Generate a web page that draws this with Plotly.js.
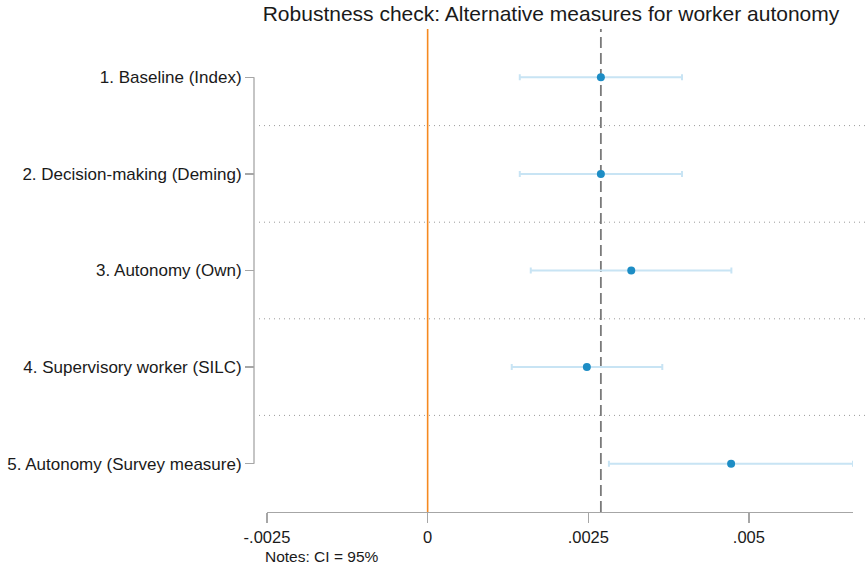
<!DOCTYPE html>
<html>
<head>
<meta charset="utf-8">
<script src="https://cdn.plot.ly/plotly-3.0.1.min.js"></script>
<style>html,body{margin:0;padding:0;background:#fff;}#chart{width:865px;height:568px;}</style>
</head>
<body>
<div id="chart"></div>
<script>
const labels = ["1. Baseline (Index)", "2. Decision-making (Deming)", "3. Autonomy (Own)", "4. Supervisory worker (SILC)", "5. Autonomy (Survey measure)"];
const positions = [1, 2, 3, 4, 5];
const estimates = [0.002696, 0.002696, 0.003169, 0.002478, 0.004723];
const ciLow = [0.001434, 0.001434, 0.001605, 0.001309, 0.002821];
const ciHigh = [0.003959, 0.003959, 0.004727, 0.003652, 0.006620];
const xTickVals = [-0.0025, 0, 0.0025, 0.005];
const xTickText = ["-.0025", "0", ".0025", ".005"];
const baselineRef = estimates[0];
const titleText = "Robustness check: Alternative measures for worker autonomy";
const noteText = "Notes: CI = 95%";

const W = 865, H = 568;
const mL = 254, mR = 12, mT = 29, mB = 56;
const plotW = W - mL - mR, plotH = H - mT - mB;
const font = "Liberation Sans, Arial, sans-serif";

const trace = {
  type: "scatter",
  mode: "markers",
  x: estimates,
  y: positions,
  marker: {color: "#1d8dc5", size: 8},
  error_x: {
    type: "data",
    symmetric: false,
    array: estimates.map((e, i) => ciHigh[i] - e),
    arrayminus: estimates.map((e, i) => e - ciLow[i]),
    color: "#c8e4f4",
    thickness: 2,
    width: 3
  },
  hoverinfo: "skip",
  showlegend: false
};

const shapes = [];
// dotted separators
for (let i = 0; i < positions.length - 1; i++) {
  const yy = (positions[i] + positions[i + 1]) / 2;
  shapes.push({type: "line", xref: "paper", yref: "y", x0: 5 / plotW, x1: 1 + mR / plotW, y0: yy, y1: yy,
    line: {color: "#9a9a9a", width: 1, dash: "1px,4px"}, layer: "below"});
}
// y-axis line spanning first to last row
shapes.push({type: "line", xref: "paper", yref: "y", x0: 0, x1: 0, y0: positions[0], y1: positions[positions.length - 1],
  line: {color: "#a6a6a6", width: 1.3}});
// zero line (orange)
shapes.push({type: "line", xref: "x", yref: "paper", x0: 0, x1: 0, y0: 0, y1: 1,
  line: {color: "#f5891f", width: 1.6}, layer: "below"});
// baseline reference (dashed)
shapes.push({type: "line", xref: "x", yref: "paper", x0: baselineRef, x1: baselineRef, y0: 0, y1: 1,
  line: {color: "#7a7a7a", width: 1.8, dash: "11px,5px"}, layer: "below"});

const layout = {
  width: W, height: H,
  margin: {l: mL, r: mR, t: mT, b: mB, pad: 0},
  paper_bgcolor: "#ffffff",
  plot_bgcolor: "#ffffff",
  font: {family: font, size: 17, color: "#1a1a1a"},
  title: {
    text: titleText,
    font: {family: font, size: 21, color: "#1a1a1a"},
    xref: "paper", x: (551 - mL) / plotW, xanchor: "center",
    yref: "container", y: 1 - 14 / H, yanchor: "middle"
  },
  xaxis: {
    domain: [13 / plotW, 1],
    range: [-0.0025, ciHigh[4]],
    tickvals: xTickVals,
    ticktext: xTickText,
    showgrid: false,
    zeroline: false,
    showline: true,
    linecolor: "#a6a6a6",
    linewidth: 1.3,
    ticks: "outside",
    ticklen: 10,
    tickwidth: 1.3,
    tickcolor: "#a6a6a6",
    tickfont: {family: font, size: 16.5, color: "#1a1a1a"},
    fixedrange: true
  },
  yaxis: {
    anchor: "free",
    position: 0,
    range: [5.5, 0.5],
    tickvals: positions,
    ticktext: labels,
    showgrid: false,
    zeroline: false,
    showline: false,
    ticks: "outside",
    ticklen: 9,
    tickwidth: 1.3,
    tickcolor: "#a6a6a6",
    tickfont: {family: font, size: 17, color: "#1a1a1a"},
    fixedrange: true
  },
  shapes: shapes,
  annotations: [{
    text: noteText, xref: "paper", yref: "paper",
    x: (262.5 - mL) / plotW, y: -(556 - (H - mB)) / plotH,
    xanchor: "left", yanchor: "middle", showarrow: false,
    font: {family: font, size: 15.5, color: "#1a1a1a"}
  }]
};

Plotly.newPlot("chart", [trace], layout, {staticPlot: true, displayModeBar: false});
</script>
</body>
</html>
